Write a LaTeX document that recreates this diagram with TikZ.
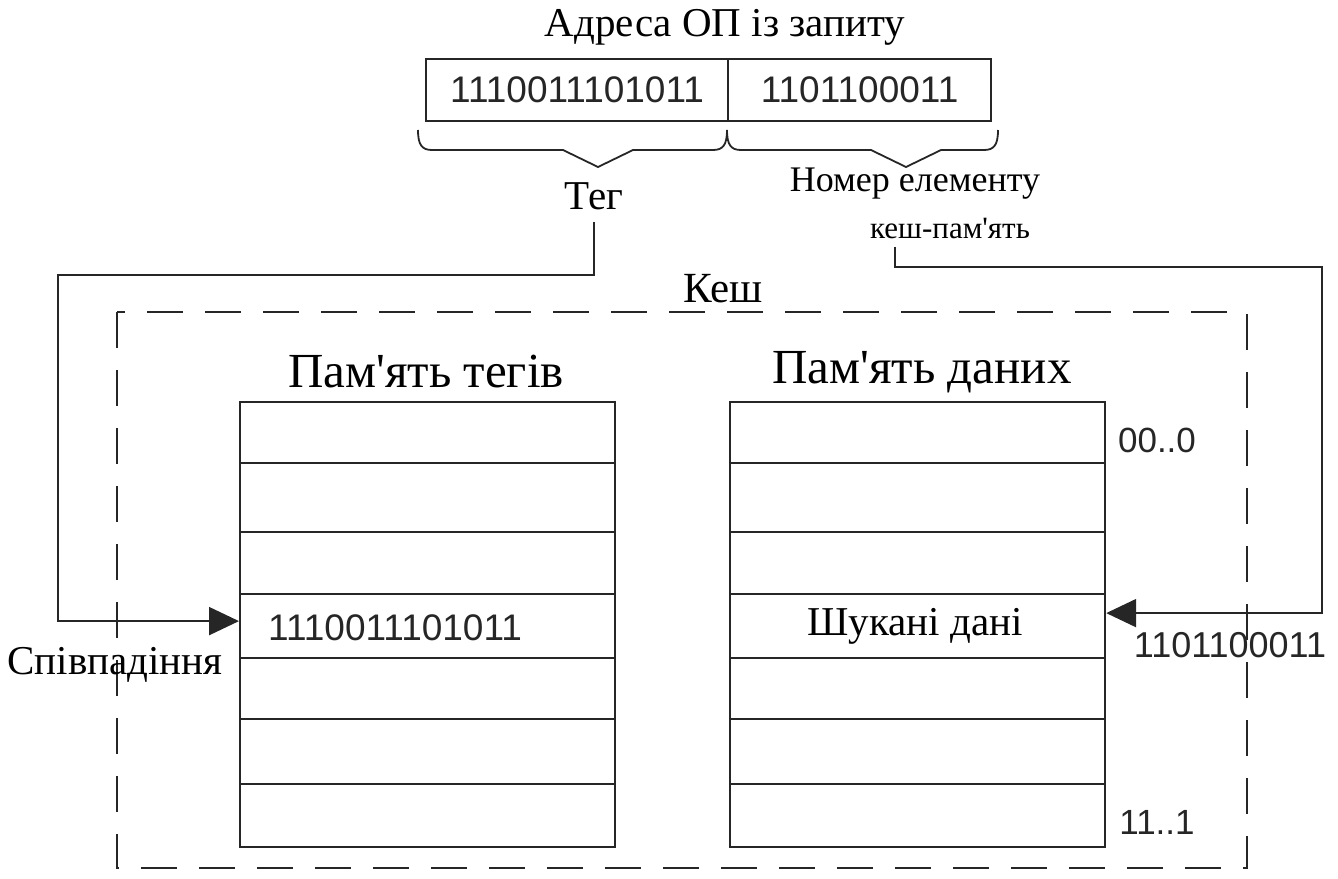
\documentclass[tikz,border=0pt]{standalone}
\usepackage{fontspec}
\setmainfont{Liberation Serif}
\newfontfamily\digfont{Liberation Sans}
\usetikzlibrary{arrows.meta}
\newcommand{\ap}{\textquotesingle}
\tikzset{
  ln/.style={line width=2.2pt, draw=black!85},
  cell/.style={ln, inner sep=0pt, anchor=north west, minimum width=375pt},
  abox/.style={ln, inner sep=0pt, anchor=north west, minimum height=62pt},
  conn/.style={ln, -{Triangle[length=30pt,width=28pt]}},
  lbl/.style={inner sep=0pt, font=\fontsize{41}{41}\selectfont},
  big/.style={inner sep=0pt, font=\fontsize{49}{49}\selectfont},
  dig/.style={inner sep=0pt, font=\digfont\fontsize{37}{37}\selectfont, text=black!85},
  cachebox/.style={ln, dash pattern=on 36pt off 22pt}
}
\begin{document}
\begin{tikzpicture}[x=1pt,y=-1pt]
\useasboundingbox (0,0) rectangle (1338,878);
% title and address register
\node[lbl] (title) at (725,27) {Адреса ОП із запиту};
\node[abox, minimum width=302pt] (a1) at (425,58) {};
\node[abox, minimum width=263pt] (a2) at (727,58) {};
\node[dig] (a1t) at (a1.center) {1110011101011};
\node[dig] (a2t) at (a2.center) {1101100011};
% braces
\draw[ln, line width=1.8pt] (418,130) .. controls (418,145) and (422,150) .. (432,150)
  -- (563,150) -- (598,167) -- (633,150) -- (713,150)
  .. controls (723,150) and (727,145) .. (727,130);
\draw[ln, line width=1.8pt] (727,130) .. controls (727,145) and (731,150) .. (741,150)
  -- (871,150) -- (906,167) -- (941,150) -- (984,150)
  .. controls (994,150) and (998,145) .. (998,130);
\node[lbl, font=\fontsize{41}{41}\selectfont] (teg) at (594,196) {Тег};
\node[lbl, font=\fontsize{36}{36}\selectfont] (nomer) at (915,184) {Номер елементу};
\node[lbl, font=\fontsize{31}{31}\selectfont] (kpam) at (950,228) {кеш-пам\ap ять};
% cache
\node[lbl, font=\fontsize{43}{43}\selectfont] (kesh) at (723,289) {Кеш};
\draw[cachebox] (117,312) rectangle (1247,868);
\node[big] (tagh) at (426,372) {Пам\ap ять тегів};
\node[big] (datah) at (922,372) {Пам\ap ять даних};
% memories
\foreach \a/\b [count=\i] in {401/462,462/531,531/593,593/657,657/718,718/783,783/846}{
  \node[cell, minimum height={(\b-\a)*1pt}] (t\i) at (239,\a) {};
  \node[cell, minimum height={(\b-\a)*1pt}] (d\i) at (729,\a) {};
}
\node[dig, anchor=west] (tagval) at (268,628) {1110011101011};
\node[lbl] (found) at (915,626) {Шукані дані};
\node[dig, font=\digfont\fontsize{35}{35}\selectfont] (first) at (1157,440) {00..0};
\node[dig, font=\digfont\fontsize{35}{35}\selectfont] (last) at (1157,822) {11..1};
\node[lbl] (match) at (115,665) {Співпадіння};
\node[dig, font=\digfont\fontsize{36}{36}\selectfont] (idx) at (1230,645) {1101100011};
% connectors
\coordinate (lc) at (58,275);
\coordinate (rc) at (1322,267);
\draw[conn] ([yshift=-12pt]teg.south) |- (lc) |- ([yshift=5pt]t4.west);
\draw[conn] ([yshift=-8pt]kpam.south west) ++(25,0) |- (rc) |- ([yshift=13pt]d4.east);
\end{tikzpicture}
\end{document}
